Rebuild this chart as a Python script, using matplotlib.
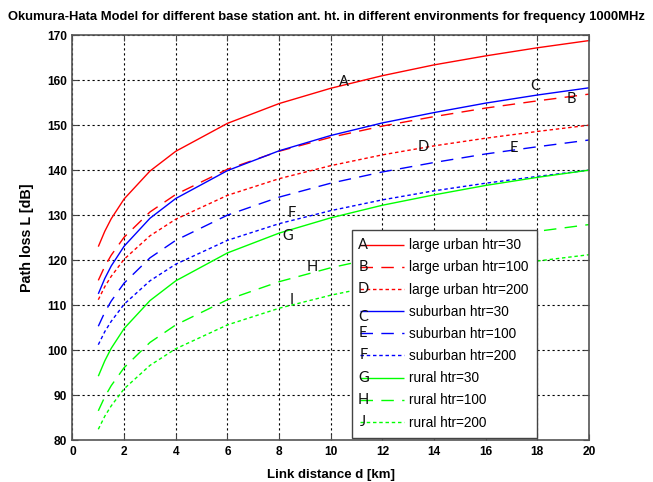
import matplotlib
matplotlib.use('Agg')
import matplotlib.pyplot as plt

# link distance (km) and path loss (dB)
dist = [1, 1.25, 1.5, 2, 3, 4, 6, 8, 10, 12, 14, 16, 18, 20]

urban_30 = [123.0, 126.4, 129.2, 133.6, 139.8, 144.2, 150.4, 154.8, 158.2, 161.0, 163.4, 165.4, 167.2, 168.8]
urban_100 = [115.5, 118.6, 121.1, 125.1, 130.7, 134.6, 140.2, 144.2, 147.3, 149.8, 151.9, 153.8, 155.4, 156.9]
urban_200 = [111.2, 114.1, 116.4, 120.2, 125.4, 129.1, 134.4, 138.1, 141.0, 143.4, 145.4, 147.1, 148.6, 150.0]
suburb_30 = [112.5, 115.9, 118.7, 123.1, 129.3, 133.7, 139.9, 144.3, 147.7, 150.5, 152.8, 154.9, 156.7, 158.3]
suburb_100 = [105.3, 108.4, 110.9, 114.9, 120.5, 124.4, 130.0, 134.0, 137.1, 139.6, 141.7, 143.6, 145.2, 146.7]
suburb_200 = [101.2, 104.1, 106.4, 110.2, 115.4, 119.1, 124.4, 128.1, 131.0, 133.4, 135.4, 137.1, 138.6, 140.0]
rural_30 = [94.2, 97.6, 100.4, 104.8, 111.0, 115.4, 121.6, 126.0, 129.4, 132.2, 134.5, 136.6, 138.4, 140.0]
rural_100 = [86.5, 89.6, 92.1, 96.1, 101.7, 105.6, 111.2, 115.2, 118.3, 120.8, 122.9, 124.8, 126.4, 127.9]
rural_200 = [82.4, 85.3, 87.6, 91.4, 96.6, 100.3, 105.6, 109.3, 112.2, 114.6, 116.6, 118.3, 119.8, 121.2]

legend_labels = ['large urban htr=30', 'large urban htr=100', 'large urban htr=200',
                 'suburban htr=30', 'suburban htr=100', 'suburban htr=200',
                 'rural htr=30', 'rural htr=100', 'rural htr=200']
legend_letters = ['A', 'B', 'D', 'C', 'E', 'F', 'G', 'H', 'J']

# letters written next to the curves: (text, d, L)
curve_tags = [('A', 10.5, 159.6), ('C', 17.9, 158.7), ('B', 19.3, 155.8),
              ('D', 13.6, 145.1), ('E', 17.1, 144.9), ('F', 8.5, 130.4),
              ('G', 8.35, 125.3), ('H', 9.3, 118.4), ('I', 8.5, 111.1)]

plain = ['Liberation Sans', 'DejaVu Sans']
tagfont = ['Lato', 'DejaVu Sans']

fig = plt.figure(figsize=(6.53, 4.82), dpi=100)
ax = fig.add_axes([0.111, 0.087, 0.791, 0.840])

solid = (0, ())
dash = (0, (9, 6))
dot = (0, (2.5, 2))

series = [urban_30, urban_100, urban_200, suburb_30, suburb_100, suburb_200,
          rural_30, rural_100, rural_200]
colors = ['#ff0000'] * 3 + ['#0000ff'] * 3 + ['#00ff00'] * 3
styles = [solid, dash, dot] * 3

for vals, col, ls, lab in zip(series, colors, styles, legend_labels):
    ax.plot(dist, vals, color=col, linestyle=ls, lw=1.0, label=lab)

for t, d, L in curve_tags:
    ax.text(d, L, t, family=tagfont, fontsize=10.5, ha='center', va='center', color='#111111')

ax.set_xlim(0, 20)
ax.set_ylim(80, 170)
ax.set_xticks(range(0, 21, 2))
ax.set_yticks(range(80, 171, 10))
ax.grid(True, color='black', linestyle=(0, (2, 2.5)), lw=0.8)
ax.tick_params(direction='in', length=4, top=True, right=True, pad=4,
               labelsize=8.6, color='#444444')
for lbl in ax.get_xticklabels() + ax.get_yticklabels():
    lbl.set_fontweight('bold')
    lbl.set_family(plain)
for sp in ax.spines.values():
    sp.set_color('#555555')
    sp.set_linewidth(1.2)

fig.text(0.5, 0.964, 'Okumura-Hata Model for different base station ant. ht. in different environments for frequency 1000MHz',
         family=plain, fontweight='bold', fontsize=9.35, ha='center', va='center')
ax.set_xlabel('Link distance d [km]', family=plain, fontweight='bold', fontsize=9.5, labelpad=8)
ax.set_ylabel('Path loss L [dB]', family=plain, fontweight='bold', fontsize=10.3, labelpad=9)

leg = ax.legend(loc='lower left', bbox_to_anchor=(0.541, 0.005), borderaxespad=0,
                prop={'family': plain, 'size': 9.8}, handlelength=3.2, handletextpad=0.4,
                labelspacing=0.6, borderpad=0.62, fancybox=False, framealpha=1,
                edgecolor='#444444')
leg.get_frame().set_linewidth(1.0)

fig.canvas.draw()
renderer = fig.canvas.get_renderer()
inv = fig.transFigure.inverted()
for line, letter in zip(leg.get_lines(), legend_letters):
    bb = line.get_window_extent(renderer)
    yoff = -6 if letter == 'C' else 0
    fx, fy = inv.transform((bb.x0 + 3, (bb.y0 + bb.y1) / 2 + yoff))
    fig.text(fx, fy, letter, family=tagfont, fontsize=10.5, ha='center', va='center',
             color='#111111', zorder=10)

fig.savefig('out.png', dpi=100)
